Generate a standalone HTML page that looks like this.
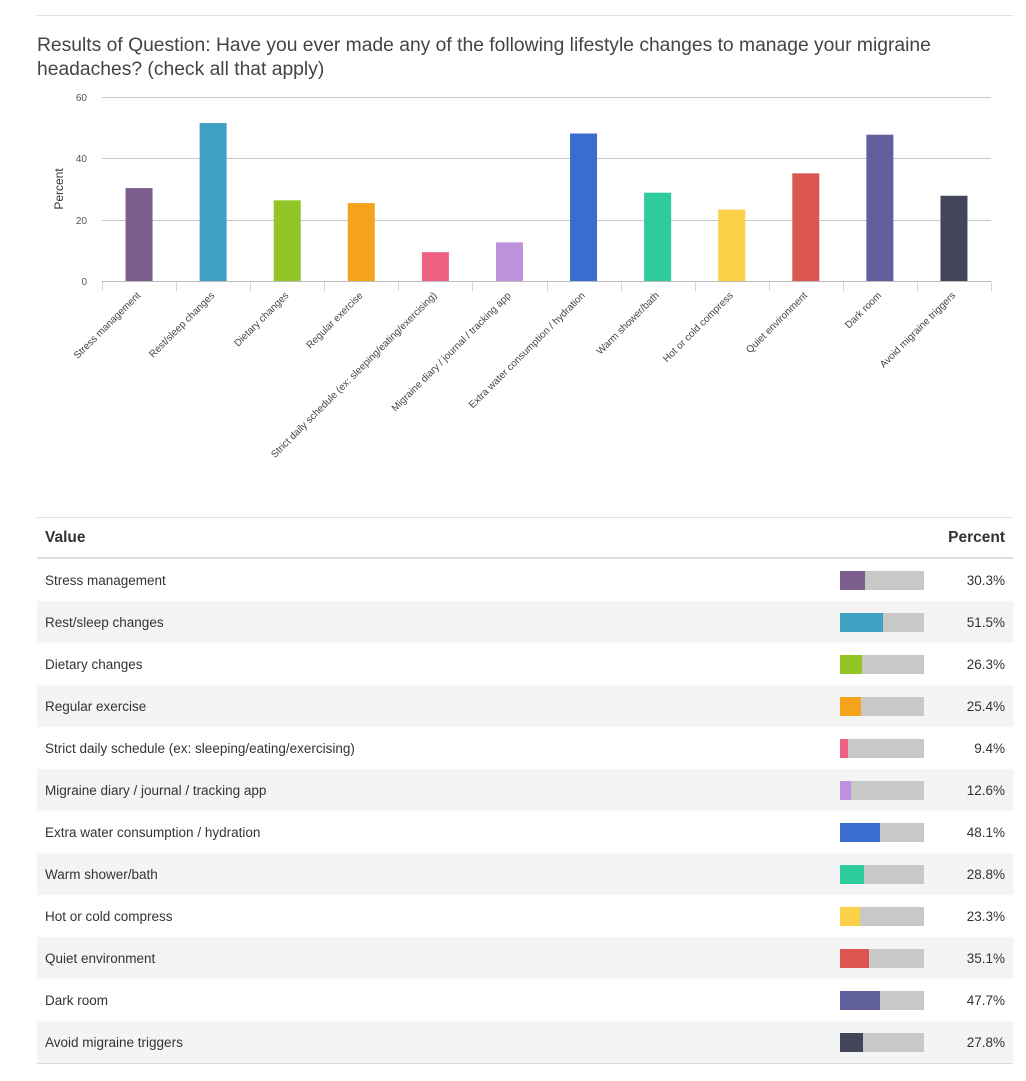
<!DOCTYPE html>
<html><head><meta charset="utf-8"><style>
body{margin:0;background:#fff;font-family:"Liberation Sans",sans-serif;color:#333;}
.wrap{position:relative;width:1026px;height:1081px;overflow:hidden}
.top{position:absolute;left:37px;top:15px;width:976px;height:1px;background:#e0e0e0}
.title{position:absolute;left:37px;top:34px;font-size:19.3px;line-height:24px;color:#444;width:985px}
table{position:absolute;left:37px;top:517px;width:976px;border-collapse:collapse;table-layout:fixed;font-size:13.5px;color:#333}
th{font-size:15.5px;font-weight:bold;text-align:left;height:39px;padding:0 8px;border-top:1px solid #e0e0e0;border-bottom:2px solid #ddd;color:#333}
td{height:42px;padding:0 8px}
tr.g td{background:#f4f4f4}
.bar{width:84px;height:19px;background:#c8c8c8;position:relative}
.bar i{position:absolute;left:0;top:0;bottom:0}
td.p{text-align:right}
tr:last-child td{border-bottom:1px solid #ddd}
</style></head><body><div class="wrap">
<div class="top"></div>
<div class="title">Results of Question: Have you ever made any of the following lifestyle changes to manage your migraine headaches? (check all that apply)</div>
<svg width="1026" height="510" style="position:absolute;left:0;top:0" font-family="Liberation Sans, sans-serif">
<g stroke="#c8c8c8" stroke-width="1">
<line x1="102" y1="97.5" x2="991" y2="97.5"/><line x1="102" y1="158.5" x2="991" y2="158.5"/><line x1="102" y1="220.5" x2="991" y2="220.5"/>
</g>
<g font-size="10" fill="#555" text-anchor="end"><text x="87" y="101">60</text><text x="87" y="162">40</text><text x="87" y="224">20</text><text x="87" y="285">0</text></g>
<text transform="translate(63,189) rotate(-90)" text-anchor="middle" font-size="12" fill="#333">Percent</text>
<g id="bars"></g>
<line x1="102" y1="281.5" x2="991" y2="281.5" stroke="#bbb"/>
<g stroke="#ccd6eb" id="ticks"></g>
<g id="labels" font-size="10" fill="#444" text-anchor="end"></g>
</svg>
<table><colgroup><col style="width:795px"><col style="width:100px"><col style="width:81px"></colgroup><tr><th>Value</th><th></th><th style="text-align:right">Percent</th></tr><tbody id="tb"></tbody></table>
</div>
<script>
var d=[["Stress management",30.3,"#7c5f8f"],["Rest/sleep changes",51.5,"#40a2c2"],["Dietary changes",26.3,"#93c527"],["Regular exercise",25.4,"#f5a31a"],["Strict daily schedule (ex: sleeping/eating/exercising)",9.4,"#ee6182"],["Migraine diary / journal / tracking app",12.6,"#be93db"],["Extra water consumption / hydration",48.1,"#3b6ccf"],["Warm shower/bath",28.8,"#2ecc9c"],["Hot or cold compress",23.3,"#fbd247"],["Quiet environment",35.1,"#db5651"],["Dark room",47.7,"#615e9c"],["Avoid migraine triggers",27.8,"#434659"]];
var ns="http://www.w3.org/2000/svg",B=document.getElementById("bars"),T=document.getElementById("ticks"),L=document.getElementById("labels"),tb=document.getElementById("tb");
var w=(991-102)/12;
for(var i=0;i<=12;i++){var l=document.createElementNS(ns,"line");var x=Math.round(102+i*w)+.5;l.setAttribute("x1",x);l.setAttribute("x2",x);l.setAttribute("y1",282);l.setAttribute("y2",291);T.appendChild(l);}
d.forEach(function(r,i){var c=102+w*(i+.5);var h=r[1]*184/60;var b=document.createElementNS(ns,"rect");b.setAttribute("x",c-13.5);b.setAttribute("width",27);b.setAttribute("y",281-h);b.setAttribute("height",h);b.setAttribute("fill",r[2]);B.appendChild(b);
var t=document.createElementNS(ns,"text");t.setAttribute("transform","translate("+(c+2)+",296) rotate(-45)");t.textContent=r[0];L.appendChild(t);
var tr=document.createElement("tr");if(i%2)tr.className="g";tr.innerHTML="<td>"+r[0]+"</td><td><div class='bar'><i style='width:"+(r[1]*0.84)+"px;background:"+r[2]+"'></i></div></td><td class='p'>"+r[1].toFixed(1)+"%</td>";tb.appendChild(tr);});
</script>
</body></html>
